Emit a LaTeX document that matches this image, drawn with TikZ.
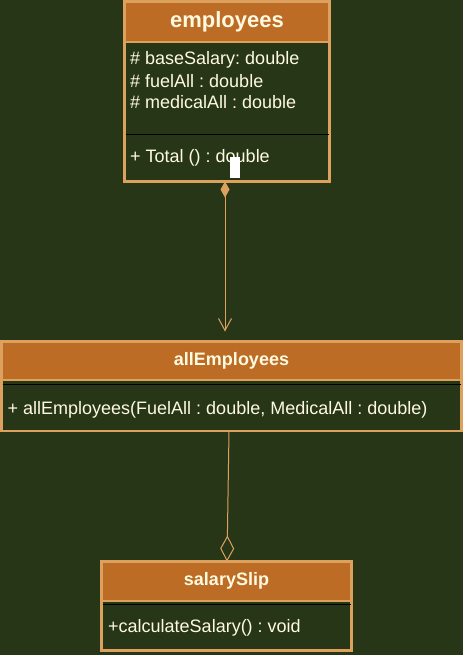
\documentclass[tikz,border=0pt]{standalone}
\usepackage{fontspec}
\setmainfont{Liberation Sans}
\usetikzlibrary{arrows.meta,positioning}
\definecolor{bgGreen}{HTML}{283618}
\definecolor{hdrFill}{HTML}{BC6C25}
\definecolor{boxLine}{HTML}{DDA15E}
\definecolor{txtCream}{HTML}{FEFAE0}
\frenchspacing

\begin{document}
\begin{tikzpicture}[x=1pt,y=-1pt,
  hdr/.style={draw=boxLine,fill=hdrFill,line width=2.5pt,outer sep=0pt,inner sep=0pt,text=txtCream,font=\bfseries\fontsize{18}{22}\selectfont,text height=13pt,text depth=4pt},
  body/.style={draw=boxLine,fill=bgGreen,line width=2.5pt,outer sep=0pt,inner sep=0pt},
  member/.style={anchor=west,inner sep=0pt,text=txtCream,font=\fontsize{18}{22}\selectfont,text height=13pt,text depth=4pt},
  divider/.style={black,line width=1pt},
  assoc/.style={draw=boxLine,line width=1pt,line cap=round}]
\fill[bgGreen] (0,0) rectangle (463,655);
\useasboundingbox (0,0) rectangle (463,655);

\node[hdr,minimum width=205pt,minimum height=40.5pt,font=\bfseries\fontsize{22}{26}\selectfont,text height=16pt,text depth=4.5pt] (emp) at (227,21.75) {employees};
\node[body,minimum width=205pt,minimum height=139.5pt,below=0pt of emp] (empbody) {};
\draw[divider] (125.5,135) -- (328.5,135);
\node[member] (baseSal) at (130,60.5) {\# baseSalary: double};
\node[member] (fuelAll) at (130,82.8) {\# fuelAll : double};
\node[member] (medAll) at (130,103.8) {\# medicalAll : double};
\node[member] (total) at (130,158.2) {+ Total () : double};
\fill[white] (230,157) rectangle (240,178);

\node[hdr,minimum width=460pt,minimum height=38.5pt] (allemp) at (231.5,360.75) {allEmployees};
\node[body,minimum width=460pt,minimum height=51pt,below=0pt of allemp] (allempbody) {};
\draw[divider] (2.5,384) -- (460.5,384);
\node[member] (ctor) at (7.5,409.5) {+ allEmployees(FuelAll : double, MedicalAll : double)};

\node[hdr,minimum width=250pt,minimum height=39.5pt] (slip) at (226.5,581.25) {salarySlip};
\node[body,minimum width=250pt,minimum height=49.5pt,below=0pt of slip] (slipbody) {};
\draw[divider] (102.5,604) -- (350.5,604);
\node[member] (calc) at (108,627.8) {+calculateSalary() : void};

\draw[assoc,{Diamond[length=16pt,width=9pt]}-{Straight Barb[length=12pt,width=13pt]},shorten >=10pt]
  ([xshift=-2pt]empbody.south) -- ([xshift=-2pt]empbody.south |- allemp.north);
\draw[assoc,-{Diamond[open,length=26pt,width=14pt]}]
  ([xshift=-2.5pt]allempbody.south) -- ([xshift=0.5pt]slip.north);
\end{tikzpicture}
\end{document}
